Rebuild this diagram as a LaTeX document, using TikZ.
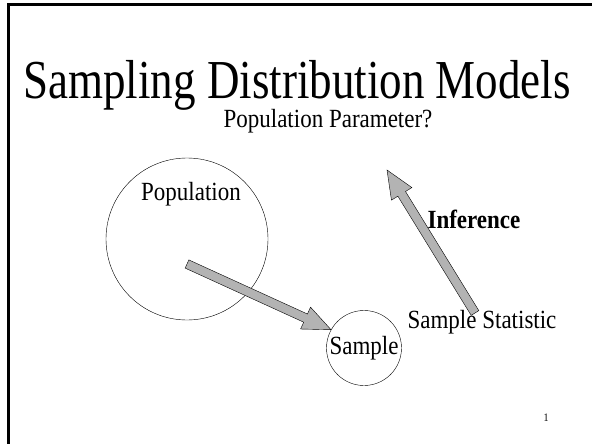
\documentclass[tikz,border=0pt]{standalone}
\usepackage{fontspec}
\setmainfont{Liberation Serif}
\usetikzlibrary{calc}
\definecolor{arrowgray}{RGB}{179,179,179}

% slides are a bit taller than the font
\newcommand{\vstretch}[2][1.14]{\scalebox{1}[#1]{#2}}

% block arrow between two named points
\newcommand{\blockarrow}[2]{%
  \coordinate (ba-b) at ($(#2)!28pt!(#1)$);
  \filldraw[blockarr] ($(#1)!4.5pt!90:(#2)$) -- ($(ba-b)!4.5pt!90:(#2)$)
    -- ($(ba-b)!12pt!90:(#2)$) -- (#2) -- ($(ba-b)!12pt!-90:(#2)$)
    -- ($(ba-b)!4.5pt!-90:(#2)$) -- ($(#1)!4.5pt!-90:(#2)$) -- cycle;}

\begin{document}
\begin{tikzpicture}[
    x=1pt, y=-1pt,
    txt/.style={inner sep=0pt, anchor=base, font=\fontsize{23}{27}\selectfont},
    ring/.style={circle, draw, thin, inner sep=0pt},
    blockarr/.style={fill=arrowgray, draw=black, thin, line join=miter}
]
\useasboundingbox (0,0) rectangle (592,444);

% Frame
\draw[line width=3pt] (8.5,444) -- (8.5,4.5) -- (592,4.5);

% Title
\node[txt, font=\fontsize{45}{50}\selectfont] (title) at (297,99) {\vstretch[1.22]{Sampling Distribution Models}};

% Population
\node[ring, minimum size=162pt] (pop) at (187,239) {};
\node[txt] (poplbl) at (191,200) {\vstretch{Population}};

% Sample
\node[ring, minimum size=75pt] (samp) at (364,348) {};
\node[txt] (samplbl) at (364,354) {\vstretch{Sample}};

% Texts
\node[txt] (param) at (328,127) {\vstretch{Population Parameter?}};
\node[txt] (stat) at (482,328) {\vstretch{Sample Statistic}};
\node[txt, font=\fontsize{23}{27}\selectfont\bfseries] (infer) at (474,228) {\vstretch{Inference}};
\node[txt, font=\fontsize{10}{12}\selectfont] (pnum) at (546,421) {\vstretch{1}};

% Arrows
\coordinate (drawtail) at ($(pop.center)+(0,25)$);
\coordinate (drawtip) at (samp.151);
\coordinate (inftail) at ($(stat.base)+(-7,-15)$);
\coordinate (inftip) at ($(param.base)+(59,43)$);
\blockarrow{drawtail}{drawtip}
\blockarrow{inftail}{inftip}

\end{tikzpicture}
\end{document}
